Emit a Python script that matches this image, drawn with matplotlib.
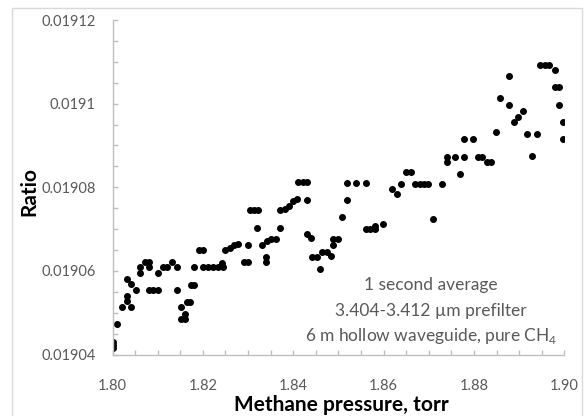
import matplotlib
matplotlib.use("Agg")
import matplotlib.pyplot as plt
from matplotlib.patches import Rectangle
from matplotlib.ticker import MultipleLocator

pressure = [
    1.8000, 1.8000, 1.8000, 1.8011, 1.8021, 1.8031, 1.8031, 1.8031, 1.8041, 1.8042,
    1.8052, 1.8061, 1.8061, 1.8072, 1.8081, 1.8081, 1.8081, 1.8090, 1.8101, 1.8101,
    1.8111, 1.8121, 1.8131, 1.8142, 1.8142, 1.8152, 1.8152, 1.8160, 1.8160, 1.8164,
    1.8172, 1.8173, 1.8181, 1.8180, 1.8191, 1.8201, 1.8201, 1.8212, 1.8223, 1.8234,
    1.8242, 1.8245, 1.8249, 1.8259, 1.8269, 1.8278, 1.8290, 1.8301, 1.8301, 1.8304,
    1.8313, 1.8323, 1.8320, 1.8330, 1.8341, 1.8351, 1.8361, 1.8339, 1.8339, 1.8371,
    1.8381, 1.8391, 1.8400, 1.8408, 1.8371, 1.8411, 1.8422, 1.8431, 1.8430, 1.8430,
    1.8439, 1.8441, 1.8452, 1.8460, 1.8463, 1.8474, 1.8484, 1.8488, 1.8499, 1.8487,
    1.8509, 1.8520, 1.8519, 1.8539, 1.8560, 1.8560, 1.8570, 1.8581, 1.8581, 1.8599,
    1.8618, 1.8629, 1.8639, 1.8649, 1.8661, 1.8670, 1.8681, 1.8690, 1.8699, 1.8729,
    1.8709, 1.8740, 1.8740, 1.8758, 1.8778, 1.8769, 1.8778, 1.8799, 1.8809, 1.8818,
    1.8828, 1.8838, 1.8849, 1.8858, 1.8878, 1.8878, 1.8889, 1.8898, 1.8909, 1.8918,
    1.8939, 1.8929, 1.8947, 1.8957, 1.8967, 1.8979, 1.8979, 1.8988, 1.8988, 1.8998,
    1.8998,
]

ratio = [
    0.0190431, 0.0190423, 0.0190416, 0.0190473, 0.0190514, 0.0190581, 0.0190540, 0.0190528, 0.0190569, 0.0190514,
    0.0190554, 0.0190610, 0.0190596, 0.0190622, 0.0190622, 0.0190609, 0.0190554, 0.0190554, 0.0190554, 0.0190596,
    0.0190609, 0.0190609, 0.0190622, 0.0190609, 0.0190554, 0.0190514, 0.0190485, 0.0190485, 0.0190497, 0.0190526,
    0.0190526, 0.0190567, 0.0190567, 0.0190609, 0.0190650, 0.0190650, 0.0190609, 0.0190609, 0.0190609, 0.0190609,
    0.0190619, 0.0190609, 0.0190650, 0.0190654, 0.0190662, 0.0190664, 0.0190622, 0.0190622, 0.0190662, 0.0190746,
    0.0190746, 0.0190746, 0.0190703, 0.0190662, 0.0190671, 0.0190676, 0.0190676, 0.0190634, 0.0190622, 0.0190746,
    0.0190748, 0.0190756, 0.0190767, 0.0190772, 0.0190703, 0.0190812, 0.0190812, 0.0190812, 0.0190770, 0.0190687,
    0.0190678, 0.0190634, 0.0190634, 0.0190604, 0.0190644, 0.0190644, 0.0190636, 0.0190676, 0.0190676, 0.0190662,
    0.0190728, 0.0190770, 0.0190811, 0.0190811, 0.0190811, 0.0190699, 0.0190699, 0.0190707, 0.0190699, 0.0190711,
    0.0190796, 0.0190784, 0.0190808, 0.0190836, 0.0190836, 0.0190808, 0.0190808, 0.0190808, 0.0190808, 0.0190808,
    0.0190725, 0.0190872, 0.0190860, 0.0190872, 0.0190872, 0.0190832, 0.0190915, 0.0190915, 0.0190872, 0.0190872,
    0.0190860, 0.0190860, 0.0190931, 0.0191013, 0.0191067, 0.0190997, 0.0190955, 0.0190968, 0.0190982, 0.0190927,
    0.0190927, 0.0190874, 0.0191092, 0.0191092, 0.0191092, 0.0191080, 0.0191039, 0.0191039, 0.0190997, 0.0190955,
    0.0190915,
]

x_ticks = [1.80, 1.82, 1.84, 1.86, 1.88, 1.90]
x_ticklabels = ["1.80", "1.82", "1.84", "1.86", "1.88", "1.90"]
y_ticks = [0.01904, 0.01906, 0.01908, 0.0191, 0.01912]
y_ticklabels = ["0.01904", "0.01906", "0.01908", "0.0191", "0.01912"]

x_label = "Methane pressure, torr"
y_label = "Ratio"
note_lines = ["1 second average", "3.404-3.412 \u00b5m prefilter", "6 m hollow waveguide, pure CH$_4$"]

plt.rcParams["font.family"] = ["Lato", "DejaVu Sans"]
plt.rcParams["mathtext.fontset"] = "custom"
plt.rcParams["mathtext.rm"] = "Lato"

fig = plt.figure(figsize=(5.84, 4.16), dpi=100)
fig.patches.append(Rectangle((12 / 584, -0.05), (582 - 12) / 584, 1.05 - 8 / 416,
                             transform=fig.transFigure, fill=False,
                             edgecolor="#d9d9d9", linewidth=1.0))

ax = fig.add_axes([112.5 / 584, 1 - 354.5 / 416, (564.3 - 112.5) / 584, (354.5 - 20) / 416])
ax.plot(pressure, ratio, linestyle="none", marker="o", markersize=4.0, color="black")

ax.set_xlim(1.80, 1.90)
ax.set_ylim(0.01904, 0.01912)
ax.set_xticks(x_ticks)
ax.set_xticklabels(x_ticklabels)
ax.set_yticks(y_ticks)
ax.set_yticklabels(y_ticklabels)
ax.xaxis.set_minor_locator(MultipleLocator(0.005))
ax.yaxis.set_minor_locator(MultipleLocator(0.000005))

for s in ["top", "right"]:
    ax.spines[s].set_visible(False)
for s in ["left", "bottom"]:
    ax.spines[s].set_color("#bfbfbf")
    ax.spines[s].set_linewidth(1.0)

ax.tick_params(which="both", direction="in", color="#bfbfbf", width=1.0, length=3.5)
ax.tick_params(axis="y", which="major", pad=12, labelsize=10.5, labelcolor="#595959")
ax.tick_params(axis="x", which="major", pad=18, labelsize=10.5, labelcolor="#595959")

fig.text(341 / 584, 1 - 405 / 416, x_label, ha="center", va="center",
         fontsize=15, fontweight="bold", color="black")
fig.text(29 / 584, 1 - 192 / 416, y_label, ha="center", va="center", rotation=90,
         fontsize=15, fontweight="bold", color="black")

for i, line in enumerate(note_lines):
    ax.text(431 / 584, 0, line, transform=fig.transFigure, ha="center", va="center",
            fontsize=12.5, color="#595959")
for t, ypx in zip(ax.texts, [285, 311, 336]):
    t.set_position((431 / 584, 1 - ypx / 416))

fig.savefig("out.png", dpi=100)
